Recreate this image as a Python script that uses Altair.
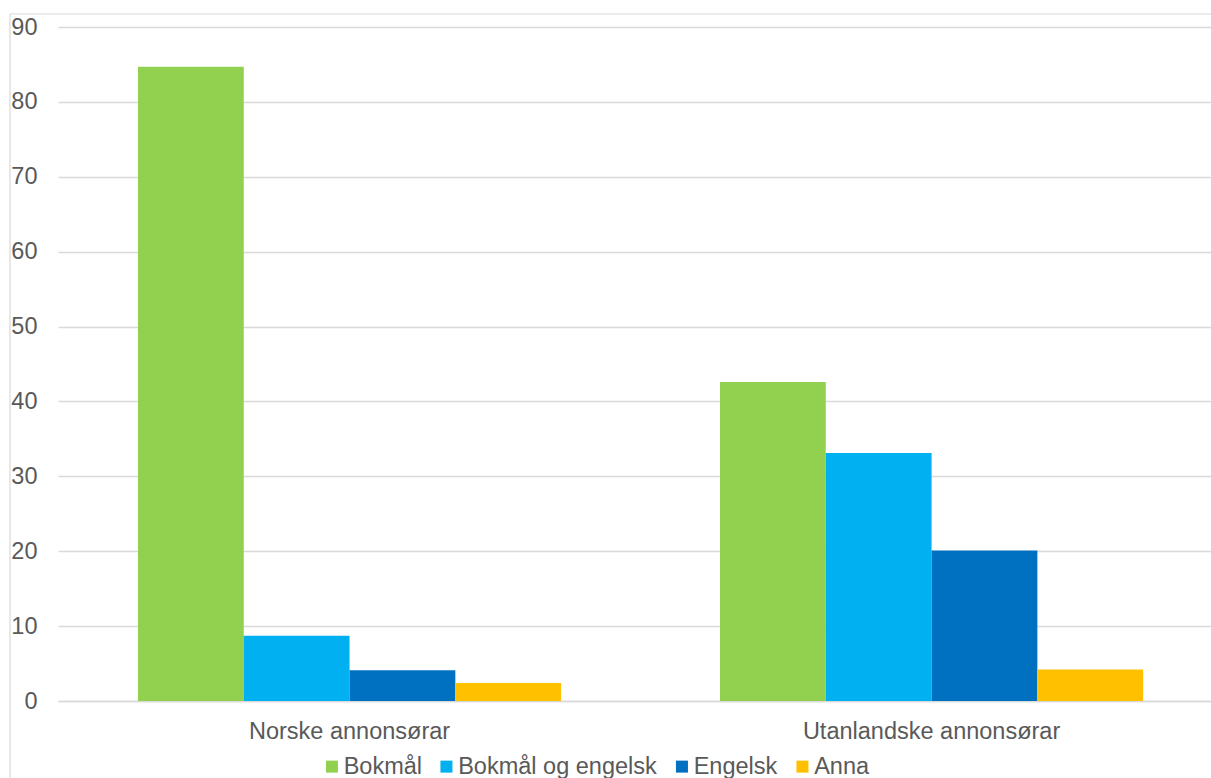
import altair as alt
import pandas as pd

categories = ["Norske annonsørar", "Utanlandske annonsørar"]
series = ["Bokmål", "Bokmål og engelsk", "Engelsk", "Anna"]
norske = [84.7, 8.7, 4.1, 2.4]
utanlandske = [42.6, 33.1, 20.1, 4.2]
colors = ["#92D050", "#00B0F0", "#0070C0", "#FFC000"]
y_ticks = [0, 10, 20, 30, 40, 50, 60, 70, 80, 90]

rows = []
for cat, vals in zip(categories, [norske, utanlandske]):
    for s, v in zip(series, vals):
        rows.append({"kategori": cat, "serie": s, "verdi": v})
df = pd.DataFrame(rows)

W, H = 1153, 674
FS = 23.5
TXT = "#595959"

bars = alt.Chart(df).mark_bar().encode(
    x=alt.X("kategori:N", sort=categories, title=None,
            scale=alt.Scale(paddingInner=0.273, paddingOuter=0.127, align=0.541),
            axis=alt.Axis(labelAngle=0, labelFontSize=FS, labelColor=TXT,
                          labelLimit=0, ticks=False, tickSize=0, labelPadding=18,
                          domainColor="#d9d9d9", domainWidth=1.5, grid=False)),
    xOffset=alt.XOffset("serie:N", sort=series,
                        scale=alt.Scale(paddingInner=0, paddingOuter=0)),
    y=alt.Y("verdi:Q", title=None,
            scale=alt.Scale(domain=[0, 90], nice=False),
            axis=alt.Axis(values=y_ticks, labelFontSize=FS, labelColor=TXT,
                          ticks=False, tickSize=0, domain=False, labelPadding=21,
                          gridColor="#d9d9d9", gridWidth=1.3)),
    color=alt.Color("serie:N", sort=series,
                    scale=alt.Scale(domain=series, range=colors),
                    legend=alt.Legend(title=None, orient="none", direction="horizontal",
                                      legendX=262.2, legendY=727.5, padding=0,
                                      symbolType="square", symbolSize=144,
                                      symbolStrokeWidth=0,
                                      labelFontSize=FS, labelColor=TXT,
                                      labelLimit=0, labelOffset=0,
                                      columnPadding=12.5)),
)

one = pd.DataFrame({"a": [0]})
left_border = alt.Chart(one).mark_rule(color="#d9d9d9", strokeWidth=1.2).encode(
    x=alt.value(-48), y=alt.value(-13), y2=alt.value(760))
top_border = alt.Chart(one).mark_rule(color="#d9d9d9", strokeWidth=1.2).encode(
    x=alt.value(-48), x2=alt.value(W + 10), y=alt.value(-13))

chart = alt.layer(bars, left_border, top_border).properties(
    width=W, height=H,
    autosize=alt.AutoSizeParams(type="none"),
    padding={"left": 58, "top": 27, "right": 0, "bottom": 77},
).configure(font="Liberation Sans").configure_view(stroke=None)

chart.save("out.html", embed_options={"renderer": "svg", "actions": False})
